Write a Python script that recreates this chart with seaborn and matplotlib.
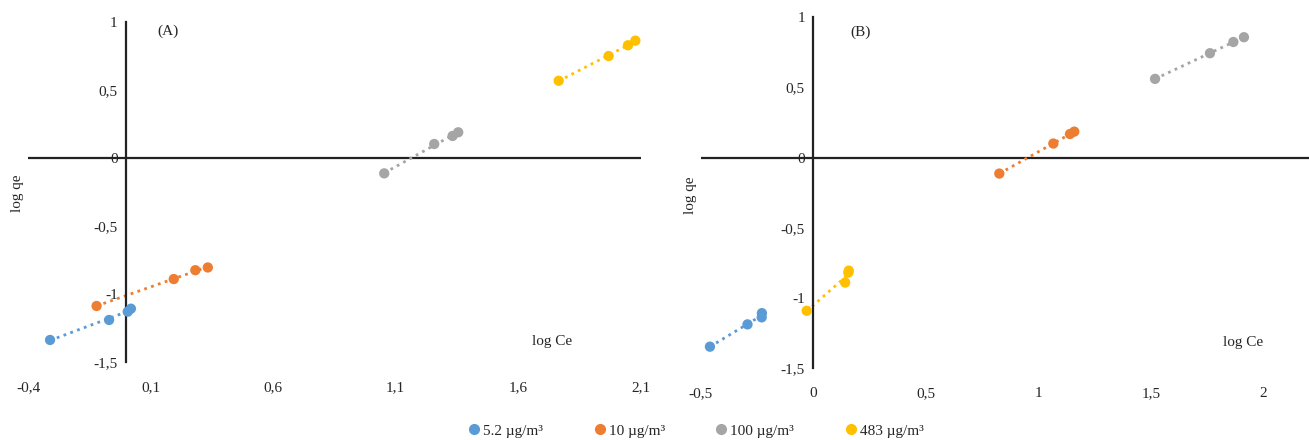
import numpy as np
import pandas as pd
import matplotlib
matplotlib.use("Agg")
import matplotlib.pyplot as plt
import seaborn as sns

sns.set_theme(style="white")
plt.rcParams['font.family'] = ['Liberation Serif', 'DejaVu Serif']

series_names = ["5.2 µg/m³", "10 µg/m³", "100 µg/m³", "483 µg/m³"]
colors = ["#5B9BD5", "#ED7D31", "#A5A5A5", "#FFC000"]

# Panel A: log Ce (x), log qe (y)
a_blue_x = [-0.310, -0.069, 0.007, 0.020]
a_blue_y = [-1.338, -1.191, -1.130, -1.108]
a_orange_x = [-0.120, 0.195, 0.283, 0.334]
a_orange_y = [-1.088, -0.890, -0.825, -0.805]
a_gray_x = [1.054, 1.258, 1.333, 1.356]
a_gray_y = [-0.113, 0.103, 0.162, 0.189]
a_yellow_x = [1.766, 1.970, 2.049, 2.079]
a_yellow_y = [0.568, 0.750, 0.829, 0.863]

# Panel B
b_blue_x = [-0.459, -0.292, -0.229, -0.228]
b_blue_y = [-1.348, -1.189, -1.139, -1.109]
b_orange_x = [0.827, 1.067, 1.141, 1.160]
b_orange_y = [-0.114, 0.100, 0.168, 0.185]
b_gray_x = [1.519, 1.763, 1.867, 1.914]
b_gray_y = [0.561, 0.744, 0.824, 0.858]
b_yellow_x = [-0.029, 0.142, 0.156, 0.158]
b_yellow_y = [-1.092, -0.891, -0.820, -0.806]

a_xticks = [-0.4, 0.1, 0.6, 1.1, 1.6, 2.1]
a_xticklabels = ["-0,4", "0,1", "0,6", "1,1", "1,6", "2,1"]
b_xticks = [-0.5, 0, 0.5, 1, 1.5, 2]
b_xticklabels = ["-0,5", "0", "0,5", "1", "1,5", "2"]
yticks = [-1.5, -1, -0.5, 0, 0.5, 1]
yticklabels = ["-1,5", "-1", "-0,5", "0", "0,5", "1"]


def make_df(xs, ys):
    rows = []
    for name, x, y in zip(series_names, xs, ys):
        for xi, yi in zip(x, y):
            rows.append({"series": name, "x": xi, "y": yi})
    return pd.DataFrame(rows)


df_a = make_df([a_blue_x, a_orange_x, a_gray_x, a_yellow_x],
               [a_blue_y, a_orange_y, a_gray_y, a_yellow_y])
df_b = make_df([b_blue_x, b_orange_x, b_gray_x, b_yellow_x],
               [b_blue_y, b_orange_y, b_gray_y, b_yellow_y])

W, H = 1309, 440
fig = plt.figure(figsize=(W / 100, H / 100), dpi=100)
ax_a = fig.add_axes([28 / W, 1 - 362 / H, (640.5 - 28) / W, (362 - 22) / H])
ax_b = fig.add_axes([700.7 / W, 1 - 368 / H, (W - 700.7) / W, (368 - 17.3) / H])

palette = dict(zip(series_names, colors))
FS = 11


def draw(ax, df, xlim, xticks, xticklabels, panel_label, label_xy, logce_xy, logqe_px):
    for name in series_names:
        sub = df[df["series"] == name]
        sns.regplot(data=sub, x="x", y="y", ax=ax, scatter=False, ci=None,
                    truncate=True, color=palette[name],
                    line_kws=dict(linestyle=(0, (1, 1.6)), linewidth=2.0))
    sns.scatterplot(data=df, x="x", y="y", hue="series", palette=palette,
                    ax=ax, s=55, edgecolor="none", legend=False, zorder=5)
    ax.set_xlim(*xlim)
    ax.set_ylim(-1.5, 1)
    for s in ["top", "right", "bottom"]:
        ax.spines[s].set_visible(False)
    ax.spines["left"].set_position(("data", 0))
    ax.spines["left"].set_color("#222222")
    ax.spines["left"].set_linewidth(1.6)
    ax.axhline(0, color="#222222", lw=1.6, zorder=1)
    ax.set_xticks(xticks)
    ax.set_xticklabels(xticklabels, fontsize=FS)
    ax.set_yticks(yticks)
    ax.set_yticklabels(yticklabels, fontsize=FS)
    ax.tick_params(axis="x", length=0, pad=14)
    ax.tick_params(axis="y", length=0, pad=6)
    ax.set_xlabel("")
    ax.set_ylabel("")
    ax.grid(False)
    ax.text(label_xy[0], label_xy[1], panel_label, fontsize=FS, ha="center", va="center")
    ax.text(logce_xy[0], logce_xy[1], "log Ce", fontsize=FS, ha="center", va="center")
    fig.text(logqe_px[0] / W, 1 - logqe_px[1] / H, "log qe", fontsize=FS,
             rotation=90, ha="center", va="center")


draw(ax_a, df_a, (-0.4, 2.1), a_xticks, a_xticklabels, "(A)", (0.170, 0.934),
     (1.739, -1.349), (17, 193))
draw(ax_b, df_b, (-0.5, (W - 813.3) / 225), b_xticks, b_xticklabels, "(B)", (0.212, 0.893),
     (1.911, -1.317), (690, 195))

handles = [plt.Line2D([], [], marker="o", linestyle="none", color=c, markersize=7)
           for c in colors]
fig.legend(handles, series_names, loc="center", bbox_to_anchor=(695 / W, 1 - 431 / H),
           ncol=4, frameon=False, fontsize=FS, handletextpad=0.1,
           columnspacing=3.2, handlelength=1.0)

fig.savefig("out.png", dpi=100)
